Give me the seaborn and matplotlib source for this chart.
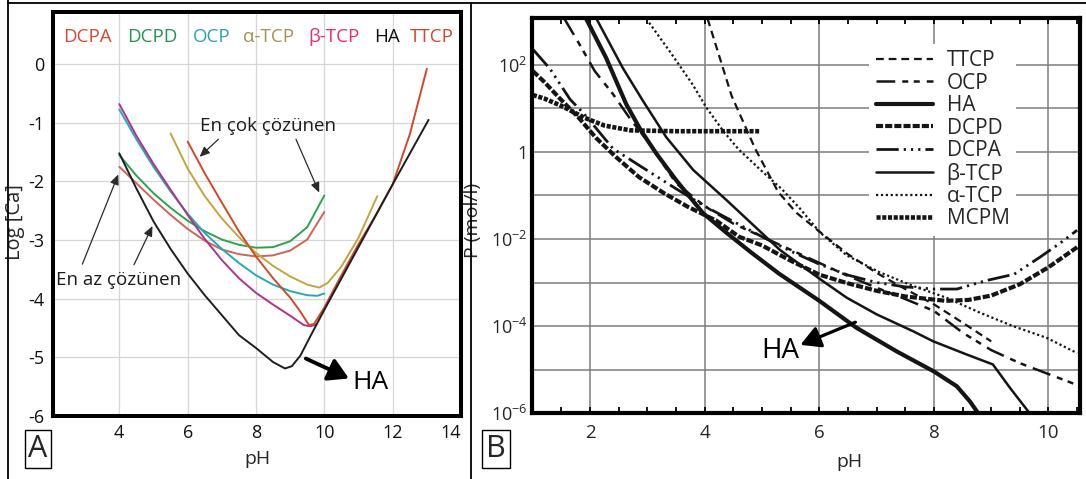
import numpy as np
import matplotlib
matplotlib.use("Agg")
import matplotlib.pyplot as plt
import seaborn as sns
from matplotlib.lines import Line2D
from matplotlib.ticker import FixedLocator, NullFormatter

# ---------------- Panel A: log[Ca] solubility isotherms ----------------
ph_dcpa_a = [4.0, 4.5, 5.0, 5.5, 6.0, 6.5, 7.0, 7.5, 8.0, 8.5, 9.0, 9.5, 10.0]
logca_dcpa_a = [-1.75, -2.03, -2.31, -2.57, -2.81, -3.01, -3.16, -3.24, -3.28, -3.26, -3.18, -2.99, -2.52]

ph_dcpd_a = [4.0, 4.5, 5.0, 5.5, 6.0, 6.5, 7.0, 7.5, 8.0, 8.5, 9.0, 9.5, 10.0]
logca_dcpd_a = [-1.55, -1.90, -2.20, -2.45, -2.67, -2.85, -2.99, -3.08, -3.13, -3.12, -3.02, -2.78, -2.24]

ph_ocp_a = [4.0, 4.5, 5.0, 5.5, 6.0, 6.5, 7.0, 7.5, 8.0, 8.5, 9.0, 9.5, 9.8, 10.0]
logca_ocp_a = [-0.77, -1.28, -1.75, -2.17, -2.55, -2.88, -3.15, -3.39, -3.60, -3.76, -3.87, -3.94, -3.95, -3.91]

ph_atcp_a = [5.5, 6.0, 6.5, 7.0, 7.5, 8.0, 8.5, 9.0, 9.5, 9.85, 10.1, 10.5, 11.0, 11.55]
logca_atcp_a = [-1.18, -1.78, -2.25, -2.63, -2.95, -3.22, -3.44, -3.62, -3.76, -3.81, -3.73, -3.45, -2.96, -2.25]

ph_btcp_a = [4.0, 4.5, 5.0, 5.5, 6.0, 6.5, 7.0, 7.5, 8.0, 8.5, 9.0, 9.4, 9.6, 9.75]
logca_btcp_a = [-0.68, -1.22, -1.70, -2.14, -2.57, -2.98, -3.34, -3.65, -3.90, -4.10, -4.29, -4.45, -4.47, -4.44]

ph_ha_a = [4.0, 4.5, 5.0, 5.5, 6.0, 6.5, 7.0, 7.5, 8.0, 8.5, 8.85, 9.05, 9.3, 9.6, 10.0, 11.0, 12.0, 13.05]
logca_ha_a = [-1.52, -2.12, -2.68, -3.15, -3.57, -3.94, -4.28, -4.62, -4.84, -5.08, -5.19, -5.15, -4.97, -4.63, -4.19, -3.12, -2.05, -0.95]

ph_ttcp_a = [6.0, 6.5, 7.0, 7.5, 8.0, 8.5, 9.0, 9.3, 9.55, 9.7, 10.0, 10.5, 11.0, 11.5, 12.0, 12.5, 13.0]
logca_ttcp_a = [-1.32, -1.86, -2.36, -2.85, -3.28, -3.65, -3.98, -4.22, -4.45, -4.43, -4.15, -3.60, -3.07, -2.58, -2.05, -1.20, -0.08]

names_a = ["DCPA", "DCPD", "OCP", "α-TCP", "β-TCP", "HA", "TTCP"]
name_colors_a = ["#d14a36", "#239452", "#2aa1b3", "#a39250", "#ec2d6a", "#111111", "#c94a33"]

# ---------------- Panel B: phosphate concentration (log10 of mol/l) ----------------
ph_ttcp_b = [4.05, 4.47, 4.88, 5.28, 5.6, 6.0, 6.5, 7.0, 7.5, 8.0, 8.5, 9.0]
logp_ttcp_b = [3.05, 1.28, 0.07, -0.92, -1.40, -1.83, -2.35, -2.78, -3.15, -3.50, -3.92, -4.35]

ph_ocp_b = [1.55, 1.82, 2.08, 2.4, 2.7, 3.0, 3.5, 4.0, 4.5, 5.0, 5.5, 6.0, 6.5, 7.0, 7.5, 8.0, 8.5, 9.0, 9.5, 10.0, 10.5]
logp_ocp_b = [3.05, 2.45, 1.85, 1.32, 0.75, 0.25, -0.72, -1.25, -1.65, -1.95, -2.25, -2.55, -2.85, -3.12, -3.38, -3.65, -4.15, -4.55, -4.85, -5.10, -5.35]

ph_ha_b = [1.93, 2.28, 2.63, 2.89, 3.16, 3.5, 3.97, 4.38, 4.8, 5.3, 6.0, 6.65, 7.35, 8.0, 8.4, 8.63, 8.8]
logp_ha_b = [3.05, 2.15, 1.09, 0.48, -0.05, -0.65, -1.41, -1.86, -2.30, -2.80, -3.42, -4.04, -4.58, -5.04, -5.38, -5.73, -6.05]

ph_dcpd_b = [1.0, 1.2, 1.45, 1.8, 2.1, 2.45, 2.85, 3.3, 3.7, 4.2, 4.6, 5.0, 5.5, 6.0, 6.5, 7.0, 7.5, 8.2, 8.6, 9.0, 9.5, 10.0, 10.5]
logp_dcpd_b = [1.85, 1.60, 1.25, 0.78, 0.32, -0.12, -0.58, -0.96, -1.26, -1.58, -1.95, -2.15, -2.50, -2.82, -3.02, -3.19, -3.32, -3.42, -3.40, -3.30, -3.04, -2.65, -2.19]

ph_dcpa_b = [1.0, 1.3, 1.65, 1.9, 2.4, 2.9, 3.5, 4.0, 4.5, 5.0, 5.5, 6.0, 6.5, 7.0, 7.5, 8.0, 8.4, 8.9, 9.4, 9.85, 10.2, 10.5]
logp_dcpa_b = [2.35, 1.90, 1.20, 0.86, 0.07, -0.35, -0.85, -1.25, -1.60, -1.95, -2.28, -2.58, -2.83, -3.00, -3.10, -3.15, -3.15, -2.96, -2.81, -2.42, -2.10, -1.80]

ph_btcp_b = [2.11, 2.57, 2.92, 3.33, 3.8, 4.38, 5.31, 6.01, 6.48, 7.0, 7.64, 7.99, 8.57, 9.03, 9.33, 9.56, 9.72]
logp_btcp_b = [3.05, 1.92, 1.17, 0.33, -0.42, -1.11, -2.25, -2.92, -3.35, -3.73, -4.12, -4.35, -4.65, -4.88, -5.42, -5.81, -6.08]

ph_atcp_b = [2.98, 3.39, 3.79, 4.03, 4.32, 4.58, 5.0, 5.34, 5.66, 6.01, 6.48, 7.06, 7.64, 8.22, 8.8, 9.38, 9.97, 10.5]
logp_atcp_b = [3.05, 2.30, 1.54, 1.01, 0.48, 0.07, -0.45, -0.85, -1.30, -1.85, -2.38, -2.77, -3.08, -3.35, -3.69, -4.00, -4.27, -4.62]

ph_mcpm_b = [1.0, 1.2, 1.5, 1.9, 2.25, 2.7, 3.5, 4.95]
logp_mcpm_b = [1.30, 1.22, 1.05, 0.78, 0.60, 0.49, 0.47, 0.47]

# ---------------- styling ----------------
sns.set_theme(style="white")
plt.rcParams["font.family"] = ["Open Sans", "DejaVu Sans"]
plt.rcParams["axes.unicode_minus"] = False
plt.rcParams["mathtext.fontset"] = "custom"
plt.rcParams["mathtext.rm"] = "Open Sans"
plt.rcParams["mathtext.it"] = "Open Sans:italic"
plt.rcParams["mathtext.bf"] = "Open Sans:bold"

W, H = 1086, 479
fig = plt.figure(figsize=(W / 100, H / 100), dpi=100)
fig.patch.set_facecolor("white")

axA = fig.add_axes([53 / W, 1 - 416 / H, (461 - 53) / W, (416 - 12) / H])
axB = fig.add_axes([531.7 / W, 1 - 413.3 / H, (1080 - 531.7) / W, (413.3 - 18.3) / H])

# ---- Panel A curves
series_a = [
    (ph_dcpa_a, logca_dcpa_a, "#cf6555"),
    (ph_dcpd_a, logca_dcpd_a, "#2ea24f"),
    (ph_ocp_a, logca_ocp_a, "#27a8b8"),
    (ph_atcp_a, logca_atcp_a, "#c2a53c"),
    (ph_btcp_a, logca_btcp_a, "#b3308c"),
    (ph_ttcp_a, logca_ttcp_a, "#d2482a"),
    (ph_ha_a, logca_ha_a, "#1e1e1e"),
]
for xs, ys, col in series_a:
    sns.lineplot(x=xs, y=ys, ax=axA, color=col, linewidth=1.4,
                 estimator=None, sort=False, legend=False)

axA.set_xlim(2.06, 14.0)
axA.set_ylim(-6.0, 0.89)
axA.set_xticks([4, 6, 8, 10, 12, 14])
axA.set_yticks([0, -1, -2, -3, -4, -5, -6])
axA.set_yticklabels(["0", "-1", "-2", "-3", "-4", "-5", "-6"])
axA.grid(True, color="#d6d6d6", linewidth=0.9)
axA.set_axisbelow(True)
axA.tick_params(length=0, labelsize=13, pad=6, colors="#111111")
axA.get_xticklabels()[-1].set_horizontalalignment("right")
for s in axA.spines.values():
    s.set_linewidth(2.9)
    s.set_color("black")
axA.set_xlabel("pH", fontsize=14)
axA.xaxis.set_label_coords(0.5, -0.085)
axA.set_ylabel("Log [Ca]", fontsize=14.5)
axA.yaxis.set_label_coords(-0.068, 0.48)

name_x = [0.0846, 0.2439, 0.389, 0.529, 0.689, 0.818, 0.928]
for nm, cl, xf in zip(names_a, name_colors_a, name_x):
    axA.text(xf, 0.938, nm, transform=axA.transAxes, color=cl, fontsize=13.5,
             ha="center", va="center")

thin = dict(arrowstyle="-|>,head_length=0.5,head_width=0.22", color="#2a2a2a",
            lw=0.9, mutation_scale=12, shrinkA=0, shrinkB=0)
axA.text(8.35, -1.06, "En çok çözünen", fontsize=13.5, ha="center", va="center", color="#1a1a1a")
axA.annotate("", xy=(6.35, -1.58), xytext=(6.9, -1.28), arrowprops=thin)
axA.annotate("", xy=(9.85, -2.19), xytext=(9.17, -1.28), arrowprops=thin)
axA.text(3.97, -3.68, "En az çözünen", fontsize=13.5, ha="center", va="center", color="#1a1a1a")
axA.annotate("", xy=(3.97, -1.88), xytext=(2.92, -3.41), arrowprops=thin)
axA.annotate("", xy=(4.97, -2.76), xytext=(4.43, -3.42), arrowprops=thin)

axA.text(11.36, -5.43, "HA", fontsize=19, ha="center", va="center", color="black")
axA.annotate("", xy=(10.72, -5.36), xytext=(9.46, -5.02),
             arrowprops=dict(arrowstyle="-|>,head_length=0.6,head_width=0.35",
                             color="black", lw=2.8, mutation_scale=20,
                             shrinkA=0, shrinkB=0))

# ---- Panel B curves
ink = "#151515"
series_b = [
    ("TTCP", ph_ttcp_b, logp_ttcp_b, 1.6, (0, (3.5, 2.2))),
    ("OCP", ph_ocp_b, logp_ocp_b, 1.8, (0, (7.5, 2.8, 2.4, 2.2, 2.4, 2.8))),
    ("HA", ph_ha_b, logp_ha_b, 3.0, "-"),
    ("DCPD", ph_dcpd_b, logp_dcpd_b, 3.0, (0, (1.7, 0.5))),
    ("DCPA", ph_dcpa_b, logp_dcpa_b, 2.0, (0, (8, 1.8, 0.8, 1.8, 0.8, 1.8, 0.8, 1.8))),
    ("β-TCP", ph_btcp_b, logp_btcp_b, 1.8, "-"),
    ("α-TCP", ph_atcp_b, logp_atcp_b, 1.6, (0, (1.0, 1.2))),
    ("MCPM", ph_mcpm_b, logp_mcpm_b, 3.3, (0, (0.9, 0.35))),
]
for lab, xs, ys, lw, ls in series_b:
    conc = np.power(10.0, np.asarray(ys))
    sns.lineplot(x=xs, y=conc, ax=axB, color=ink, linewidth=lw, linestyle=ls,
                 estimator=None, sort=False, legend=False, label=lab)

axB.set_yscale("log")
axB.set_xlim(0.98, 10.55)
axB.set_ylim(1e-6, 10 ** 3.06)
axB.yaxis.set_major_locator(FixedLocator([1e-6, 1e-4, 1e-2, 1, 1e2]))
axB.set_yticklabels([r"$10^{-6}$", r"$10^{-4}$", r"$10^{-2}$", "1", r"$10^{2}$"])
axB.yaxis.set_minor_locator(FixedLocator([1e-5, 1e-3, 1e-1, 1e1]))
axB.yaxis.set_minor_formatter(NullFormatter())
axB.set_xticks([2, 4, 6, 8, 10])
axB.set_xticks([v for v in np.arange(1.0, 10.51, 0.5) if v % 2 != 0], minor=True)
axB.grid(True, which="major", color="#7d7d7d", linewidth=1.1)
axB.yaxis.grid(True, which="minor", color="#7d7d7d", linewidth=1.1)
axB.xaxis.grid(False, which="minor")
axB.set_axisbelow(True)
axB.tick_params(axis="x", which="both", direction="in", top=True, bottom=True,
                length=4, width=1.3, color="black", labelsize=13.5, pad=8)
axB.tick_params(axis="y", which="both", length=0, labelsize=13, pad=3)
for s in axB.spines.values():
    s.set_linewidth(3.0)
    s.set_color("black")
axB.set_xlabel("pH", fontsize=14)
axB.xaxis.set_label_coords(0.58, -0.10)
axB.set_ylabel("P (mol/l)", fontsize=14)
axB.yaxis.set_label_coords(-0.091, 0.487)

leg = axB.legend(loc="upper left", bbox_to_anchor=(0.616, 0.935), fontsize=15,
                 frameon=True, handlelength=2.75, handletextpad=0.65,
                 labelspacing=0.07, borderpad=0.3, borderaxespad=0)
leg.get_frame().set_facecolor("white")
leg.get_frame().set_edgecolor("none")
leg.get_frame().set_alpha(1)

axB.text(5.31, 10 ** -4.57, "HA", fontsize=20, ha="center", va="center", color="black")
axB.annotate("", xy=(5.67, 10 ** -4.43), xytext=(6.63, 10 ** -3.91),
             arrowprops=dict(arrowstyle="-|>,head_length=0.6,head_width=0.33",
                             color="black", lw=2.3, mutation_scale=20,
                             shrinkA=0, shrinkB=0))

# ---- panel letters and frame lines
box = dict(boxstyle="square,pad=0.12", fc="white", ec="black", lw=1.0)
fig.text(38 / W, 1 - 449 / H, "A", fontsize=22, ha="center", va="center", bbox=box)
fig.text(496 / W, 1 - 449 / H, "B", fontsize=22, ha="center", va="center", bbox=box)

frame_lines = [((8, 8), (0, 3)), ((8, W), (3, 3)), ((471, 471), (3, H))]
for xs_px, ys_px in frame_lines:
    fig.add_artist(Line2D([x / W for x in xs_px], [1 - y / H for y in ys_px],
                          transform=fig.transFigure, color="black", lw=1.3))
fig.add_artist(Line2D([8 / W, 8 / W], [0.0, 1 - 3 / H], transform=fig.transFigure,
                      color="black", lw=1.3))

fig.savefig("out.png", dpi=100, facecolor="white")
